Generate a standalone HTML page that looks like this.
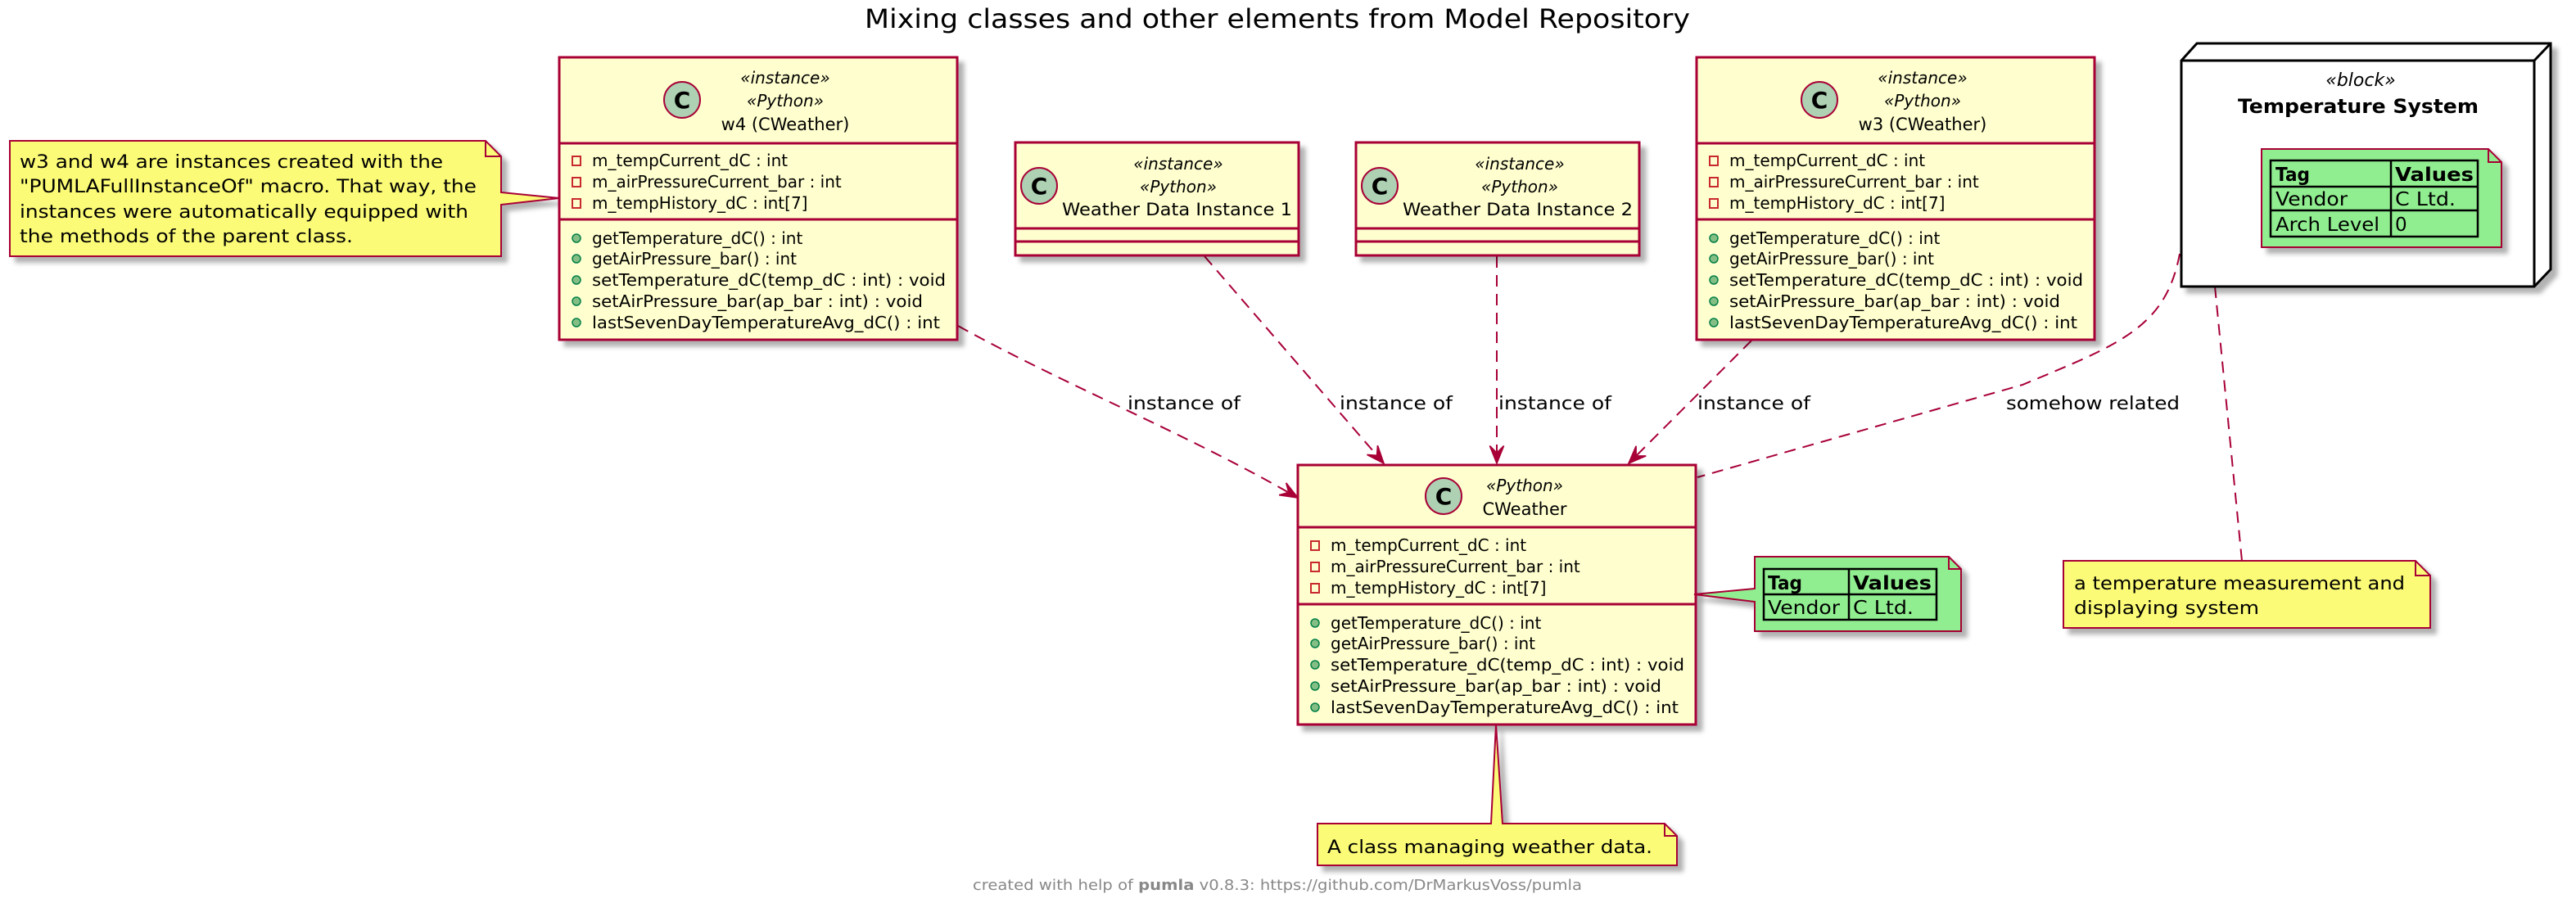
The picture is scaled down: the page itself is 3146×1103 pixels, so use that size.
<!DOCTYPE html>
<html><head><meta charset="utf-8"><style>
html,body{margin:0;padding:0;background:#fff;}
svg{display:block;font-family:"DejaVu Sans","Liberation Sans",sans-serif;}
</style></head><body>
<svg width="3146" height="1103" viewBox="0 0 3146 1103" xmlns="http://www.w3.org/2000/svg">
<defs>
<filter id="sh" x="-10%" y="-10%" width="130%" height="130%"><feDropShadow dx="7" dy="7" stdDeviation="3" flood-color="#000" flood-opacity="0.3"/></filter>
<marker id="ah" markerUnits="userSpaceOnUse" markerWidth="30" markerHeight="30" refX="0" refY="0" viewBox="-24 -12 28 24" orient="auto" overflow="visible">
<path d="M0,0 L-20,-8 L-12,0 L-20,8 Z" fill="#A80036" stroke="#A80036" stroke-width="1.5"/>
</marker>
</defs>

<text x="1056" y="34" font-size="32" textLength="1008" lengthAdjust="spacingAndGlyphs">Mixing classes and other elements from Model Repository</text>

<g fill="none" stroke="#A80036" stroke-width="2" stroke-dasharray="14,9">
<path d="M1170,398 C1300,470 1450,530 1585,608" marker-end="url(#ah)"/>
<path d="M1471,313 L1690,566" marker-end="url(#ah)"/>
<path d="M1828,313 L1828,566" marker-end="url(#ah)"/>
<path d="M2139,416 L1989,566" marker-end="url(#ah)"/>
<path d="M2662,310 C2645,400 2590,420 2470,470 L2073,583"/>
<path d="M2705,350 L2738,685"/>
</g>
<g font-size="22">
<text x="1377" y="500" textLength="138" lengthAdjust="spacingAndGlyphs">instance of</text>
<text x="1636" y="500" textLength="138" lengthAdjust="spacingAndGlyphs">instance of</text>
<text x="1830" y="500" textLength="138" lengthAdjust="spacingAndGlyphs">instance of</text>
<text x="2073" y="500" textLength="138" lengthAdjust="spacingAndGlyphs">instance of</text>
<text x="2450" y="500" textLength="212" lengthAdjust="spacingAndGlyphs">somehow related</text>
</g>

<g filter="url(#sh)">
<path d="M12,172 L593,172 L612,191 L612,235 L683,242 L612,250 L612,313 L12,313 Z" fill="#FBFB77" stroke="#A80036" stroke-width="2"/>
</g>
<path d="M593,172 L593,191 L612,191" fill="none" stroke="#A80036" stroke-width="2"/>
<g font-size="22">
<text x="24" y="205" textLength="517" lengthAdjust="spacingAndGlyphs">w3 and w4 are instances created with the</text>
<text x="24" y="235" textLength="558" lengthAdjust="spacingAndGlyphs">"PUMLAFullInstanceOf" macro. That way, the</text>
<text x="24" y="266" textLength="548" lengthAdjust="spacingAndGlyphs">instances were automatically equipped with</text>
<text x="24" y="296" textLength="407" lengthAdjust="spacingAndGlyphs">the methods of the parent class.</text>
</g>

<g>
<rect x="683" y="70" width="486" height="345" fill="#FEFECE" stroke="#A80036" stroke-width="3" filter="url(#sh)"/>
<line x1="683" y1="175" x2="1169" y2="175" stroke="#A80036" stroke-width="3"/>
<line x1="683" y1="268" x2="1169" y2="268" stroke="#A80036" stroke-width="3"/>
<circle cx="833" cy="122" r="22" fill="#ADD1B2" stroke="#A80036" stroke-width="2"/>
<text x="833" y="132" font-size="28" font-weight="bold" text-anchor="middle">C</text>
<text x="959" y="102" font-size="20" font-style="italic" text-anchor="middle">«instance»</text>
<text x="959" y="130" font-size="20" font-style="italic" text-anchor="middle">«Python»</text>
<text x="959" y="159" font-size="21" text-anchor="middle">w4 (CWeather)</text>
</g>

<g>
<rect x="2072" y="70" width="486" height="345" fill="#FEFECE" stroke="#A80036" stroke-width="3" filter="url(#sh)"/>
<line x1="2072" y1="175" x2="2558" y2="175" stroke="#A80036" stroke-width="3"/>
<line x1="2072" y1="268" x2="2558" y2="268" stroke="#A80036" stroke-width="3"/>
<circle cx="2222" cy="122" r="22" fill="#ADD1B2" stroke="#A80036" stroke-width="2"/>
<text x="2222" y="132" font-size="28" font-weight="bold" text-anchor="middle">C</text>
<text x="2348" y="102" font-size="20" font-style="italic" text-anchor="middle">«instance»</text>
<text x="2348" y="130" font-size="20" font-style="italic" text-anchor="middle">«Python»</text>
<text x="2348" y="159" font-size="21" text-anchor="middle">w3 (CWeather)</text>
</g>

<g>
<rect x="1585" y="568" width="486" height="317" fill="#FEFECE" stroke="#A80036" stroke-width="3" filter="url(#sh)"/>
<line x1="1585" y1="644" x2="2071" y2="644" stroke="#A80036" stroke-width="3"/>
<line x1="1585" y1="738" x2="2071" y2="738" stroke="#A80036" stroke-width="3"/>
<circle cx="1763" cy="606" r="22" fill="#ADD1B2" stroke="#A80036" stroke-width="2"/>
<text x="1763" y="616" font-size="28" font-weight="bold" text-anchor="middle">C</text>
<text x="1862" y="600" font-size="20" font-style="italic" text-anchor="middle">«Python»</text>
<text x="1862" y="629" font-size="21" text-anchor="middle">CWeather</text>
</g>

<g font-size="20">
<g>
<rect x="699" y="191" width="10" height="11" fill="none" stroke="#C82930" stroke-width="2"/>
<rect x="699" y="217" width="10" height="11" fill="none" stroke="#C82930" stroke-width="2"/>
<rect x="699" y="243" width="10" height="11" fill="none" stroke="#C82930" stroke-width="2"/>
<text x="723" y="203">m_tempCurrent_dC : int</text>
<text x="723" y="229">m_airPressureCurrent_bar : int</text>
<text x="723" y="255">m_tempHistory_dC : int[7]</text>
<g fill="#84BE84" stroke="#038048" stroke-width="1.5">
<circle cx="704" cy="291" r="5"/><circle cx="704" cy="316" r="5"/><circle cx="704" cy="342" r="5"/><circle cx="704" cy="368" r="5"/><circle cx="704" cy="394" r="5"/>
</g>
<text x="723" y="298">getTemperature_dC() : int</text>
<text x="723" y="323">getAirPressure_bar() : int</text>
<text x="723" y="349" textLength="432" lengthAdjust="spacingAndGlyphs">setTemperature_dC(temp_dC : int) : void</text>
<text x="723" y="375" textLength="404" lengthAdjust="spacingAndGlyphs">setAirPressure_bar(ap_bar : int) : void</text>
<text x="723" y="401" textLength="425" lengthAdjust="spacingAndGlyphs">lastSevenDayTemperatureAvg_dC() : int</text>
</g>
<g transform="translate(1389,0)">
<rect x="699" y="191" width="10" height="11" fill="none" stroke="#C82930" stroke-width="2"/>
<rect x="699" y="217" width="10" height="11" fill="none" stroke="#C82930" stroke-width="2"/>
<rect x="699" y="243" width="10" height="11" fill="none" stroke="#C82930" stroke-width="2"/>
<text x="723" y="203">m_tempCurrent_dC : int</text>
<text x="723" y="229">m_airPressureCurrent_bar : int</text>
<text x="723" y="255">m_tempHistory_dC : int[7]</text>
<g fill="#84BE84" stroke="#038048" stroke-width="1.5">
<circle cx="704" cy="291" r="5"/><circle cx="704" cy="316" r="5"/><circle cx="704" cy="342" r="5"/><circle cx="704" cy="368" r="5"/><circle cx="704" cy="394" r="5"/>
</g>
<text x="723" y="298">getTemperature_dC() : int</text>
<text x="723" y="323">getAirPressure_bar() : int</text>
<text x="723" y="349" textLength="432" lengthAdjust="spacingAndGlyphs">setTemperature_dC(temp_dC : int) : void</text>
<text x="723" y="375" textLength="404" lengthAdjust="spacingAndGlyphs">setAirPressure_bar(ap_bar : int) : void</text>
<text x="723" y="401" textLength="425" lengthAdjust="spacingAndGlyphs">lastSevenDayTemperatureAvg_dC() : int</text>
</g>
<g transform="translate(902,470)">
<rect x="699" y="191" width="10" height="11" fill="none" stroke="#C82930" stroke-width="2"/>
<rect x="699" y="217" width="10" height="11" fill="none" stroke="#C82930" stroke-width="2"/>
<rect x="699" y="243" width="10" height="11" fill="none" stroke="#C82930" stroke-width="2"/>
<text x="723" y="203">m_tempCurrent_dC : int</text>
<text x="723" y="229">m_airPressureCurrent_bar : int</text>
<text x="723" y="255">m_tempHistory_dC : int[7]</text>
<g fill="#84BE84" stroke="#038048" stroke-width="1.5">
<circle cx="704" cy="291" r="5"/><circle cx="704" cy="316" r="5"/><circle cx="704" cy="342" r="5"/><circle cx="704" cy="368" r="5"/><circle cx="704" cy="394" r="5"/>
</g>
<text x="723" y="298">getTemperature_dC() : int</text>
<text x="723" y="323">getAirPressure_bar() : int</text>
<text x="723" y="349" textLength="432" lengthAdjust="spacingAndGlyphs">setTemperature_dC(temp_dC : int) : void</text>
<text x="723" y="375" textLength="404" lengthAdjust="spacingAndGlyphs">setAirPressure_bar(ap_bar : int) : void</text>
<text x="723" y="401" textLength="425" lengthAdjust="spacingAndGlyphs">lastSevenDayTemperatureAvg_dC() : int</text>
</g>
</g>

<g>
<rect x="1240" y="174" width="346" height="138" fill="#FEFECE" stroke="#A80036" stroke-width="3" filter="url(#sh)"/>
<line x1="1240" y1="279" x2="1586" y2="279" stroke="#A80036" stroke-width="3"/>
<line x1="1240" y1="295" x2="1586" y2="295" stroke="#A80036" stroke-width="3"/>
<circle cx="1269" cy="227" r="22" fill="#ADD1B2" stroke="#A80036" stroke-width="2"/>
<text x="1269" y="237" font-size="28" font-weight="bold" text-anchor="middle">C</text>
<text x="1439" y="207" font-size="20" font-style="italic" text-anchor="middle">«instance»</text>
<text x="1439" y="235" font-size="20" font-style="italic" text-anchor="middle">«Python»</text>
<text x="1297" y="263" font-size="21" textLength="281" lengthAdjust="spacingAndGlyphs">Weather Data Instance 1</text>
</g>
<g>
<rect x="1656" y="174" width="346" height="138" fill="#FEFECE" stroke="#A80036" stroke-width="3" filter="url(#sh)"/>
<line x1="1656" y1="279" x2="2002" y2="279" stroke="#A80036" stroke-width="3"/>
<line x1="1656" y1="295" x2="2002" y2="295" stroke="#A80036" stroke-width="3"/>
<circle cx="1685" cy="227" r="22" fill="#ADD1B2" stroke="#A80036" stroke-width="2"/>
<text x="1685" y="237" font-size="28" font-weight="bold" text-anchor="middle">C</text>
<text x="1856" y="207" font-size="20" font-style="italic" text-anchor="middle">«instance»</text>
<text x="1856" y="235" font-size="20" font-style="italic" text-anchor="middle">«Python»</text>
<text x="1713" y="263" font-size="21" textLength="281" lengthAdjust="spacingAndGlyphs">Weather Data Instance 2</text>
</g>

<g filter="url(#sh)">
<path d="M2664,74 L2683,53 L3115,53 L3115,329 L3095,350 L2664,350 Z" fill="#fff" stroke="#000" stroke-width="3"/>
</g>
<path d="M2664,74 L3095,74 L3115,53 M3095,74 L3095,350" fill="none" stroke="#000" stroke-width="3"/>
<text x="2883" y="105" font-size="22" font-style="italic" text-anchor="middle">«block»</text>
<text x="2733" y="138" font-size="24" font-weight="bold" textLength="294" lengthAdjust="spacingAndGlyphs">Temperature System</text>

<g filter="url(#sh)">
<path d="M2762,182 L3039,182 L3055,198 L3055,302 L2762,302 Z" fill="#90EE90" stroke="#A80036" stroke-width="2"/>
</g>
<path d="M3039,182 L3039,198 L3055,198" fill="none" stroke="#A80036" stroke-width="2"/>
<g stroke="#000" stroke-width="2.5" fill="none">
<rect x="2773" y="196" width="253" height="93"/>
<line x1="2773" y1="228" x2="3026" y2="228"/>
<line x1="2773" y1="257" x2="3026" y2="257"/>
<line x1="2920" y1="196" x2="2920" y2="289"/>
</g>
<g font-size="23">
<text x="2779" y="221" font-weight="bold" textLength="42" lengthAdjust="spacingAndGlyphs">Tag</text>
<text x="2925" y="221" font-weight="bold" textLength="96" lengthAdjust="spacingAndGlyphs">Values</text>
<text x="2779" y="251" textLength="88" lengthAdjust="spacingAndGlyphs">Vendor</text>
<text x="2925" y="251" textLength="74" lengthAdjust="spacingAndGlyphs">C Ltd.</text>
<text x="2779" y="282" textLength="127" lengthAdjust="spacingAndGlyphs">Arch Level</text>
<text x="2925" y="282">0</text>
</g>

<g filter="url(#sh)">
<path d="M2143,680 L2380,680 L2395,695 L2395,771 L2143,771 L2143,735 L2069,726 L2143,719 Z" fill="#90EE90" stroke="#A80036" stroke-width="2"/>
</g>
<path d="M2380,680 L2380,695 L2395,695" fill="none" stroke="#A80036" stroke-width="2"/>
<g stroke="#000" stroke-width="2.5" fill="none">
<rect x="2154" y="695" width="211" height="62"/>
<line x1="2154" y1="726" x2="2365" y2="726"/>
<line x1="2258" y1="695" x2="2258" y2="757"/>
</g>
<g font-size="23">
<text x="2159" y="720" font-weight="bold" textLength="42" lengthAdjust="spacingAndGlyphs">Tag</text>
<text x="2263" y="720" font-weight="bold" textLength="96" lengthAdjust="spacingAndGlyphs">Values</text>
<text x="2159" y="750" textLength="88" lengthAdjust="spacingAndGlyphs">Vendor</text>
<text x="2263" y="750" textLength="74" lengthAdjust="spacingAndGlyphs">C Ltd.</text>
</g>

<g filter="url(#sh)">
<path d="M1609,1006 L1821,1006 L1827,885 L1835,1006 L2033,1006 L2048,1021 L2048,1057 L1609,1057 Z" fill="#FBFB77" stroke="#A80036" stroke-width="2"/>
</g>
<path d="M2033,1006 L2033,1021 L2048,1021" fill="none" stroke="#A80036" stroke-width="2"/>
<text x="1621" y="1042" font-size="22" textLength="397" lengthAdjust="spacingAndGlyphs">A class managing weather data.</text>

<g filter="url(#sh)">
<path d="M2520,685 L2950,685 L2968,703 L2968,767 L2520,767 Z" fill="#FBFB77" stroke="#A80036" stroke-width="2"/>
</g>
<path d="M2950,685 L2950,703 L2968,703" fill="none" stroke="#A80036" stroke-width="2"/>
<text x="2533" y="720" font-size="22" textLength="404" lengthAdjust="spacingAndGlyphs">a temperature measurement and</text>
<text x="2533" y="750" font-size="22" textLength="226" lengthAdjust="spacingAndGlyphs">displaying system</text>

<text x="1188" y="1087" font-size="18" fill="#888" textLength="744" lengthAdjust="spacingAndGlyphs">created with help of <tspan font-weight="bold">pumla</tspan> v0.8.3: https://github.com/DrMarkusVoss/pumla</text>
</svg>
</body></html>
